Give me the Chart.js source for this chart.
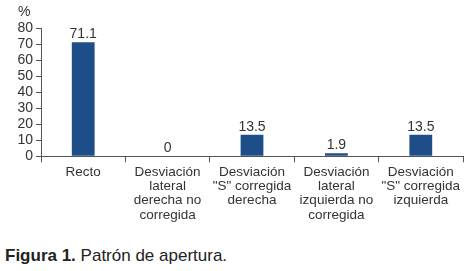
<!DOCTYPE html>
<html>
<head>
<meta charset="utf-8">
<script src="https://cdn.jsdelivr.net/npm/chart.js@4"></script>
<style>
body{margin:0;background:#fff;font-family:"Liberation Sans",Arial,sans-serif;}
#wrap{position:relative;width:468px;height:271px;}
#c{position:absolute;left:0;top:0;}
#unit{position:absolute;left:18px;top:3px;font-size:14px;color:#333;}
#cap{position:absolute;left:5px;top:246px;font-size:17px;color:#222;}
</style>
</head>
<body>
<div id="wrap">
<canvas id="c" width="468" height="235"></canvas>
<div id="unit">%</div>
<div id="cap"><b>Figura 1.</b> Patrón de apertura.</div>
</div>
<script>
const categories=[
["Recto"],
["Desviación","lateral","derecha no","corregida"],
["Desviación","\"S\" corregida","derecha"],
["Desviación","lateral","izquierda no","corregida"],
["Desviación","\"S\" corregida","izquierda"]
];
const values=[71.1,0,13.5,1.9,13.5];
const valueLabels=["71.1","0","13.5","1.9","13.5"];
const yTicks=[0,10,20,30,40,50,60,70,80];

const barColor="#1d4e89";
const txt="#333";
const fam="'Liberation Sans', Arial, sans-serif";

/* value labels above bars */
const valuePlugin={
id:"values",
afterDatasetsDraw(chart){
let ctx=chart.ctx;
let meta=chart.getDatasetMeta(0);
ctx.save();
ctx.font="14px "+fam;
ctx.fillStyle=txt;
ctx.textAlign="center";
ctx.textBaseline="bottom";
meta.data.forEach((bar,i)=>{
ctx.fillText(valueLabels[i],bar.x,bar.y-1);
});
ctx.restore();
}
};

new Chart(document.getElementById("c"),{
type:"bar",
data:{
labels:categories,
datasets:[{data:values,backgroundColor:barColor,barPercentage:0.27,categoryPercentage:1}]
},
options:{
responsive:false,
animation:false,
layout:{padding:{top:28,right:5,left:0,bottom:10}},
plugins:{legend:{display:false},tooltip:{enabled:false}},
scales:{
x:{
offset:true,
grid:{offset:true,drawOnChartArea:false,tickLength:6,color:"#555"},
border:{color:"#555"},
ticks:{color:txt,font:{size:13.5,family:fam,lineHeight:1.05},maxRotation:0,autoSkip:false,padding:3}
},
y:{
min:0,max:80,
afterFit(s){s.width=41;},
afterBuildTicks(s){s.ticks=yTicks.map(v=>({value:v}));},
grid:{drawOnChartArea:false,tickLength:5,color:"#555"},
border:{color:"#555"},
ticks:{color:txt,font:{size:14,family:fam},padding:3,autoSkip:false}
}
}
},
plugins:[valuePlugin]
});
</script>
</body>
</html>
